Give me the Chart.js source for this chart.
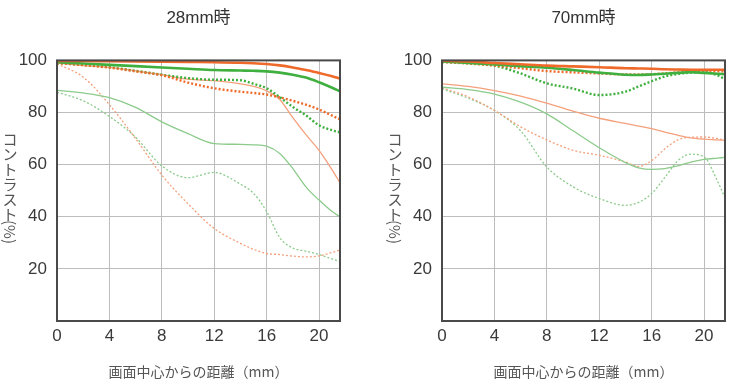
<!DOCTYPE html>
<html>
<head>
<meta charset="utf-8">
<script src="https://cdn.jsdelivr.net/npm/chart.js@4"></script>
<style>
  body { margin: 0; background: #fff; }
  .box { position: absolute; top: 0; width: 370px; height: 386px; }
</style>
</head>
<body>
<div class="box" style="left:0"><canvas id="mtf-28"></canvas></div>
<div class="box" style="left:370px"><canvas id="mtf-70"></canvas></div>
<script>
// 画面中心からの距離 (mm)
const distMm = [0, 2, 4, 6, 8, 10, 12, 14, 15, 16, 17, 18, 19, 20, 21, 21.6];
const xTickValues = [0, 4, 8, 12, 16, 20];
const yTickValues = [20, 40, 60, 80, 100];

// 28mm時
const w_orangeThick    = [99.8, 99.8, 99.7, 99.6, 99.5, 99.4, 99.3, 99.1, 98.9, 98.6, 98.1, 97.3, 96.3, 95.2, 93.9, 93.0];
const w_greenThick     = [99.3, 98.8, 98.3, 97.8, 97.3, 96.8, 96.3, 96.1, 96.0, 95.8, 95.3, 94.5, 93.4, 91.6, 89.5, 88.1];
const w_orangeThickDot = [99.0, 98.2, 97.2, 95.8, 94.3, 91.5, 89.3, 88.0, 87.5, 86.9, 85.8, 84.5, 83.0, 81.2, 78.8, 77.4];
const w_greenThickDot  = [99.0, 98.3, 97.4, 96.0, 94.5, 93.2, 92.6, 92.4, 91.0, 89.3, 85.9, 82.1, 78.9, 75.1, 73.2, 72.4];
const w_orangeThin     = [99.0, 98.0, 97.3, 96.0, 94.5, 92.8, 92.2, 91.0, 90.0, 88.3, 85.0, 78.0, 71.5, 65.5, 58.0, 53.0];
const w_greenThin      = [88.5, 87.5, 85.7, 82.0, 76.4, 71.9, 68.1, 67.8, 67.6, 67.1, 64.3, 58.5, 51.5, 46.4, 42.0, 40.0];
const w_greenThinDot   = [87.8, 84.5, 78.5, 70.5, 59.5, 55.0, 57.0, 52.5, 49.0, 42.0, 32.0, 28.0, 26.8, 25.5, 23.8, 22.8];
const w_orangeThinDot  = [98.7, 93.6, 83.0, 70.0, 56.0, 45.0, 35.5, 29.8, 27.5, 25.9, 25.5, 24.9, 24.6, 25.0, 26.3, 27.2];

// 70mm時
const t_orangeThick    = [99.9, 99.6, 99.0, 98.5, 98.0, 97.7, 97.4, 97.0, 96.9, 96.8, 96.6, 96.5, 96.4, 96.4, 96.4, 96.4];
const t_greenThick     = [99.6, 99.0, 98.4, 97.8, 97.2, 96.3, 95.3, 94.5, 94.4, 94.6, 94.9, 95.2, 95.5, 95.2, 94.9, 94.7];
const t_orangeThickDot = [99.4, 98.8, 98.0, 97.0, 95.9, 95.4, 95.0, 94.6, 94.6, 94.7, 95.0, 95.4, 95.7, 95.8, 95.8, 95.8];
const t_greenThickDot  = [99.4, 99.0, 98.0, 95.0, 91.2, 89.2, 86.7, 88.0, 90.0, 92.0, 93.8, 94.8, 95.3, 95.5, 94.3, 92.8];
const t_orangeThin     = [91.0, 90.0, 88.4, 86.3, 83.6, 80.5, 77.8, 75.8, 74.8, 73.8, 72.5, 71.3, 70.3, 69.8, 69.5, 69.3];
const t_greenThin      = [89.7, 88.8, 87.1, 84.0, 79.5, 73.0, 66.5, 60.8, 58.8, 58.2, 58.5, 59.5, 61.0, 62.0, 62.5, 62.8];
const t_orangeThinDot  = [89.5, 86.0, 80.8, 74.5, 69.5, 65.5, 63.6, 61.0, 59.3, 61.5, 66.0, 69.5, 70.5, 70.6, 70.0, 69.4];
const t_greenThinDot   = [89.1, 85.5, 80.8, 73.0, 59.1, 51.5, 47.0, 44.4, 45.5, 48.9, 55.0, 61.5, 64.0, 63.0, 54.0, 47.3];

const ORANGE = '#ef6a2a', ORANGE_THIN = '#f4a07c';
const GREEN = '#3fb03f', GREEN_THIN = '#8ccb8c';

// 枠線
const framePlugin = {
    id: 'frame',
    afterDatasetsDraw(chart) {
        const { ctx, chartArea: a } = chart;
        ctx.save();
        ctx.strokeStyle = '#4a4a4a';
        ctx.lineWidth = 2;
        ctx.strokeRect(a.left, a.top, a.right - a.left, a.bottom - a.top);
        ctx.restore();
    }
};

// 縦書きの軸タイトル
const tateTitlePlugin = {
    id: 'tateTitle',
    afterDraw(chart, args, opts) {
        const { ctx } = chart;
        ctx.save();
        ctx.font = '15px "Noto Sans CJK JP"';
        ctx.fillStyle = '#555';
        ctx.textAlign = 'center';
        ctx.textBaseline = 'middle';
        let y = opts.top;
        for (const ch of opts.text) {
            ctx.fillText(ch, opts.x, y);
            y += opts.step;
        }
        ctx.translate(opts.x, y + 3);
        ctx.rotate(Math.PI / 2);
        ctx.fillText(opts.unit, 0, 0);
        ctx.restore();
    }
};

function series(label, values, color, width, dotted) {
    return {
        label: label,
        data: distMm.map((x, i) => ({ x: x, y: values[i] })),
        borderColor: color,
        borderWidth: width,
        borderDash: dotted ? [2, 2] : [],
        pointRadius: 0,
        fill: false,
        cubicInterpolationMode: 'monotone'
    };
}

function createMtfChart(id, title, datasets, axisWidth, padRight, titleX) {
    const tickFont = { family: '"Liberation Sans", Arial, sans-serif', size: 17 };
    new Chart(document.getElementById(id), {
        type: 'line',
        data: { datasets: datasets },
        options: {
            responsive: true,
            maintainAspectRatio: false,
            animation: false,
            layout: { padding: { top: 0, right: padRight, bottom: 0, left: 0 } },
            plugins: {
                legend: { display: false },
                tooltip: { enabled: false },
                title: {
                    display: true,
                    fullSize: false,
                    text: title,
                    color: '#333',
                    font: { family: '"Liberation Sans", "Noto Sans CJK JP", sans-serif', size: 17, weight: 'normal' },
                    padding: { top: 8, bottom: 32 }
                },
                tateTitle: { text: 'コントラスト', unit: '(%)', x: titleX, top: 139, step: 15 }
            },
            scales: {
                x: {
                    type: 'linear',
                    min: 0,
                    max: 21.6,
                    afterBuildTicks: s => { s.ticks = xTickValues.map(v => ({ value: v })); },
                    afterFit: s => { s.height = 65; },
                    grid: { color: '#bdbdbd', drawTicks: false },
                    border: { display: false },
                    ticks: { font: tickFont, color: '#3a3a3a', padding: 5, maxRotation: 0 },
                    title: {
                        display: true,
                        text: '画面中心からの距離（mm）',
                        color: '#555',
                        font: { family: '"Noto Sans CJK JP", sans-serif', size: 14 },
                        padding: { top: 0, bottom: 6 }
                    }
                },
                y: {
                    min: 0,
                    max: 100,
                    afterBuildTicks: s => { s.ticks = yTickValues.map(v => ({ value: v })); },
                    afterFit: s => { s.width = axisWidth; },
                    grid: { color: '#bdbdbd', drawTicks: false },
                    border: { display: false },
                    ticks: { font: tickFont, color: '#3a3a3a', padding: 10 }
                }
            }
        },
        plugins: [framePlugin, tateTitlePlugin]
    });
}

createMtfChart('mtf-28', '28mm時', [
    series('10本 S 開放', w_orangeThick, ORANGE, 2.6, false),
    series('10本 S F8', w_greenThick, GREEN, 2.6, false),
    series('10本 M 開放', w_orangeThickDot, ORANGE, 2.4, true),
    series('10本 M F8', w_greenThickDot, GREEN, 2.4, true),
    series('30本 S 開放', w_orangeThin, ORANGE_THIN, 1.3, false),
    series('30本 S F8', w_greenThin, GREEN_THIN, 1.3, false),
    series('30本 M 開放', w_orangeThinDot, ORANGE_THIN, 1.3, true),
    series('30本 M F8', w_greenThinDot, GREEN_THIN, 1.3, true)
], 57, 30, 10);

createMtfChart('mtf-70', '70mm時', [
    series('10本 S 開放', t_orangeThick, ORANGE, 2.6, false),
    series('10本 S F8', t_greenThick, GREEN, 2.6, false),
    series('10本 M 開放', t_orangeThickDot, ORANGE, 2.4, true),
    series('10本 M F8', t_greenThickDot, GREEN, 2.4, true),
    series('30本 S 開放', t_orangeThin, ORANGE_THIN, 1.3, false),
    series('30本 S F8', t_greenThin, GREEN_THIN, 1.3, false),
    series('30本 M 開放', t_orangeThinDot, ORANGE_THIN, 1.3, true),
    series('30本 M F8', t_greenThinDot, GREEN_THIN, 1.3, true)
], 72, 15, 25);
</script>
</body>
</html>
